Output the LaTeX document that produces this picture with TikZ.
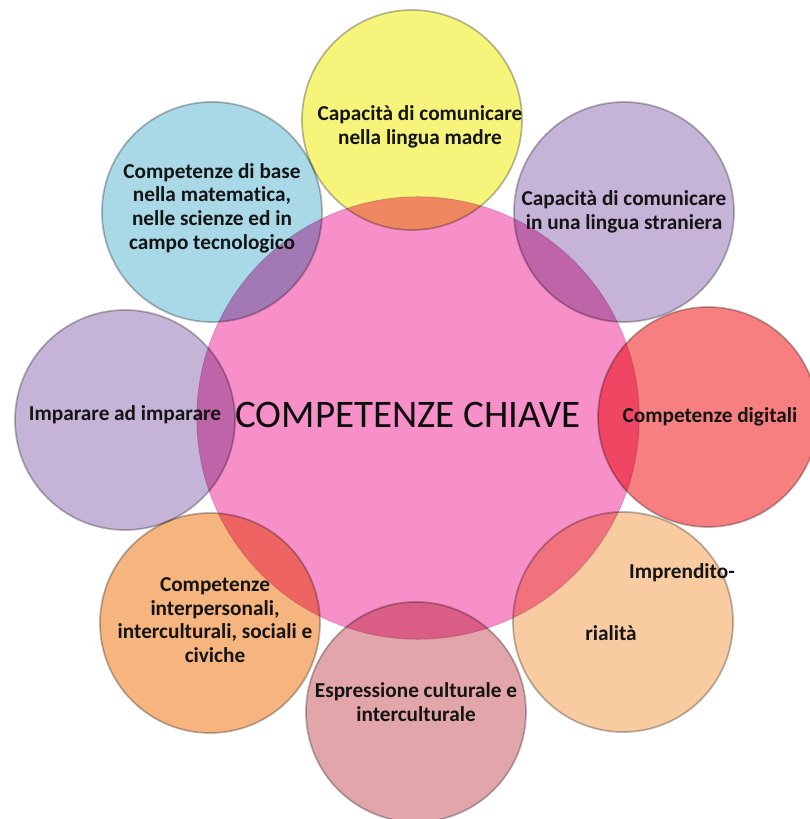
\documentclass[tikz,border=0pt]{standalone}
\usepackage{fontspec}
\setmainfont{Carlito}[Ligatures=NoCommon]
\usepackage{tikz}
\usepackage{xcolor}

\definecolor{rosa}{HTML}{F78FC8}
\definecolor{giallo}{HTML}{F7F47C}
\definecolor{lilla}{HTML}{C5B4D8}
\definecolor{rosso}{HTML}{F77F7F}
\definecolor{pesca}{HTML}{F9CBA0}
\definecolor{antico}{HTML}{E2A6AA}
\definecolor{arancio}{HTML}{F6B47E}
\definecolor{azzurro}{HTML}{A9D9E7}

\tikzset{
	cerchio/.style={circle,draw=gray!55,line width=1pt,minimum size=4.4cm,inner sep=0pt,blend mode=multiply},
	testo/.style={font=\bfseries\fontsize{12.1}{13.5}\selectfont,align=center,text=black!92,inner sep=0pt}
}

\begin{document}
\begin{tikzpicture}
			\useasboundingbox (-8.36,-8.02) rectangle (7.82,8.36);
			\coordinate (0) at (0,0);
			\coordinate (1) at (-0.12,5.96);
			\coordinate (2) at (4.12,4.12);
			\coordinate (3) at (5.80,0.02);
			\coordinate (4) at (4.10,-4.08);
			\coordinate (5) at (-0.04,-5.88);
			\coordinate (6) at (-4.16,-4.10);
			\coordinate (7) at (-5.86,-0.04);
			\coordinate (8) at (-4.12,4.12);
			\node[circle,fill=rosa,draw=rosa!80!gray,line width=0.6pt,minimum size=8.84cm,inner sep=0pt] (chiave) at (0) {};
			\foreach \Nombre/\Colore in {1/giallo,2/lilla,3/rosso,4/pesca,5/antico,6/arancio,7/lilla,8/azzurro}
			\node[cerchio,fill=\Colore] (k\Nombre) at (\Nombre) {};
			\node[testo] (madre) at ([shift={(0.16,-0.14)}]k1) {Capacità di comunicare\\nella lingua madre};
			\node[testo] (straniera) at (k2) {Capacità di comunicare\\in una lingua straniera};
			\node[testo] (digitali) at ([xshift=0.04cm]k3) {Competenze digitali};
			\node[testo] (impresa) at ([shift={(1.18,0.98)}]k4) {Imprendito-};
			\node[testo] (rialita) at ([shift={(-0.24,-0.22)}]k4) {rialità};
			\node[testo] (espressione) at ([yshift=0.2cm]k5) {Espressione culturale e\\interculturale};
			\node[testo] (civiche) at ([shift={(0.1,0.06)}]k6) {Competenze\\interpersonali,\\interculturali, sociali e\\civiche};
			\node[testo] (imparare) at ([yshift=0.1cm]k7) {Imparare ad imparare};
			\node[testo] (scienze) at ([yshift=0.08cm]k8) {Competenze di base\\nella matematica,\\nelle scienze ed in\\campo tecnologico};
			\node[font=\fontsize{22.2}{25}\selectfont,text=black!95,inner sep=0pt] (titolo) at ([shift={(-0.2,0.06)}]chiave) {COMPETENZE CHIAVE};
		\end{tikzpicture}
\end{document}
